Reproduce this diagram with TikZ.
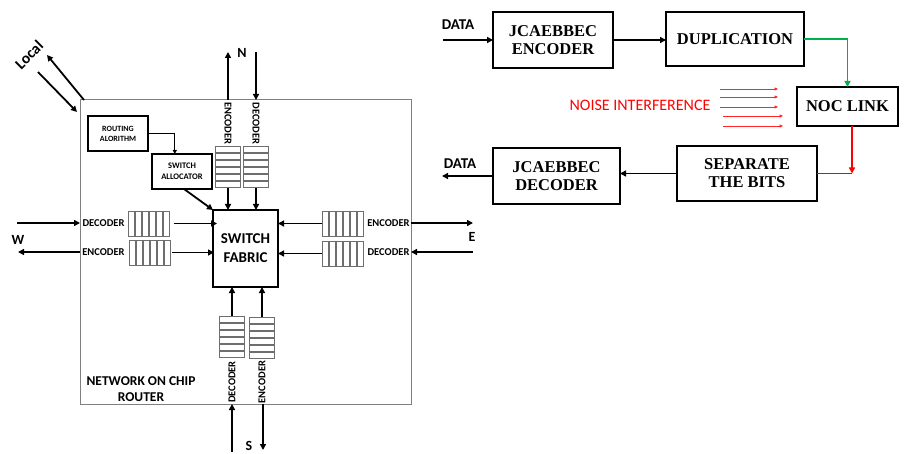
\documentclass[tikz,border=0pt]{standalone}
\usepackage{fontspec}
\setmainfont{Carlito}
\newfontfamily\serifb{Liberation Serif}
\usetikzlibrary{arrows.meta,calc}
\definecolor{okgreen}{RGB}{0,176,80}
\definecolor{bufgray}{RGB}{110,110,110}
\newcommand{\bufH}[3]{%
  \node[bufframe, minimum width=25, minimum height=42, anchor=north] (#1) at (#2,#3) {};
  \foreach \i in {0,...,5} \draw[bufline] ($(#1.north west)+(0,\i*7)$) rectangle ++(25,6.2);
}
\newcommand{\bufV}[3]{%
  \node[bufframe, minimum width=42, minimum height=25, anchor=north west] (#1) at (#2,#3) {};
  \foreach \i in {0,...,5} \draw[bufline] ($(#1.north west)+(\i*7,0)$) rectangle ++(6.2,25);
}
\begin{document}
\begin{tikzpicture}[x=1pt,y=-1pt,
  arr/.style={line width=1.8pt,-{Triangle[length=6pt,width=6pt]}},
  thinarr/.style={line width=1.1pt,-{Triangle[length=4pt,width=4pt]}},
  garr/.style={okgreen,line width=1.8pt,-{Triangle[length=6pt,width=6pt]}},
  rarr/.style={red,line width=1.8pt,-{Triangle[length=6pt,width=6pt]}},
  rline/.style={red,line width=1.8pt},
  narr/.style={red!85,line width=0.7pt,-{Triangle[length=3.5pt,width=3pt]}},
  sbox/.style={draw,line width=2pt,inner sep=0,outer sep=0,align=center,
    font=\fontsize{16.5}{18}\selectfont\serifb\bfseries},
  lbox/.style={draw,line width=1.8pt,inner sep=0,outer sep=0,align=center},
  bufframe/.style={inner sep=0,outer sep=0},
  bufline/.style={draw=bufgray,line width=0.6pt},
  plbl/.style={inner sep=0.5pt,font=\fontsize{10.5}{11}\selectfont\bfseries},
  dir/.style={inner sep=0,font=\fontsize{14}{15}\selectfont\bfseries},
  datalbl/.style={inner sep=0,font=\fontsize{15}{16}\selectfont\bfseries}
]
\useasboundingbox (0,0) rectangle (907,454);

% ---------- router ----------
\node[draw=gray,line width=1pt,inner sep=0,outer sep=0,minimum width=331,minimum height=304,anchor=north west] (router) at (80,100) {};
\node[lbox,line width=1.6pt,minimum width=60,minimum height=35,font=\fontsize{8}{10}\selectfont\bfseries] (routing) at (118,133.5) {ROUTING\\ALORITHM};
\node[lbox,line width=1.6pt,minimum width=60,minimum height=35,font=\fontsize{8.5}{11}\selectfont\bfseries] (alloc) at (182,171.5) {SWITCH\\ALLOCATOR};
\node[lbox,minimum width=65,minimum height=77,font=\fontsize{15}{19}\selectfont\bfseries] (fabric) at (245.5,248.5) {SWITCH\\FABRIC};
\node[align=center,inner sep=0,font=\fontsize{13.5}{16.5}\selectfont\bfseries] (title) at (141,389) {NETWORK ON CHIP\\ROUTER};

\draw[thinarr] (routing.east) -| ($(alloc.north west)!0.38!(alloc.north east)$);
\draw[arr] ([xshift=2pt]alloc.south) -- (fabric.north west);

% Local
\node[inner sep=0,font=\fontsize{15.5}{16}\selectfont\bfseries,rotate=45] (local) at (29,55) {Local};
\coordinate (lout) at (47,55);
\coordinate (lin1) at (38,72);
\coordinate (lin2) at (77,112);
\draw[arr] ([xshift=4pt]router.north west) -- (lout);
\draw[arr] (lin1) -- (lin2);

% North
\bufH{nenc}{228}{146}
\bufH{ndec}{256}{146}
\node[plbl,rotate=-90] (nenclbl) at (228,123.5) {ENCODER};
\node[plbl,rotate=-90] (ndeclbl) at (256,123.5) {DECODER};
\coordinate (nout) at (228,52);
\coordinate (nin) at (256,52);
\draw[arr] (nout |- router.north) -- (nout);
\draw[arr] (nin) -- (nin |- router.north);
\draw[arr] (nenc.south) -- (nenc.south |- fabric.north);
\draw[arr] (ndec.south) -- (ndec.south |- fabric.north);
\node[dir] (nlbl) at (242,53) {N};

% South
\bufH{sdec}{232}{316}
\bufH{senc}{262}{317}
\node[plbl,rotate=90] (sdeclbl) at (232,382) {DECODER};
\node[plbl,rotate=90] (senclbl) at (262,382) {ENCODER};
\coordinate (sin) at (232,452);
\coordinate (sout) at (263,450);
\draw[arr] (sin) -- (sin |- router.south);
\draw[arr] (sout |- router.south) -- (sout);
\draw[arr] (sdec.north) -- (sdec.north |- fabric.south);
\draw[arr] (senc.north) -- (senc.north |- fabric.south);
\node[dir] (slbl) at (249,446) {S};

% West
\bufV{wdec}{128}{211}
\bufV{wenc}{129}{240}
\node[plbl] (wdeclbl) at (103.5,223) {DECODER};
\node[plbl] (wenclbl) at (103.5,252) {ENCODER};
\coordinate (win) at (17,223);
\coordinate (wout) at (18,252);
\draw[arr] (win) -- (win -| router.west);
\draw[arr] (wout -| router.west) -- (wout);
\draw[arr] ([xshift=4pt]wdec.east) -- ([xshift=4pt]wdec.east -| fabric.west);
\draw[arr] ([xshift=1pt]wenc.east) -- ([xshift=1pt]wenc.east -| fabric.west);
\node[dir] (wlbl) at (18,240) {W};

% East
\bufV{eenc}{322}{211}
\bufV{edec}{322}{241}
\node[plbl] (eenclbl) at (388.5,223) {ENCODER};
\node[plbl] (edeclbl) at (388.5,252) {DECODER};
\coordinate (eout) at (473,223);
\coordinate (ein) at (473,252);
\draw[arr] (eout -| router.east) -- (eout);
\draw[arr] (ein) -- (ein -| router.east);
\draw[arr] (eenc.west) -- (eenc.west -| fabric.east);
\draw[arr] (edec.west) -- (edec.west -| fabric.east);
\node[dir] (elbl) at (472,237) {E};

% ---------- right flow ----------
\node[sbox,minimum width=120,minimum height=56] (enc) at (553,40) {JCAEBBEC\\ENCODER};
\node[sbox,minimum width=138,minimum height=54] (dup) at (735,39) {DUPLICATION};
\node[sbox,minimum width=101,minimum height=39] (noc) at (847.5,106.5) {NOC LINK};
\node[sbox,minimum width=140,minimum height=55] (sep) at (747,173.5) {SEPARATE\\THE BITS};
\node[sbox,minimum width=127,minimum height=56] (dec) at (556.5,176) {JCAEBBEC\\DECODER};

\node[datalbl] (datain) at (458,25) {DATA};
\node[datalbl] (dataout) at (460,164) {DATA};
\coordinate (din) at (443,40);
\coordinate (dout) at (442,176);
\coordinate (rc) at (852,173.5);

\draw[arr] (din) -- (enc.west);
\draw[arr] (enc.east) -- (enc.east -| dup.west);
\draw[garr] (dup.east) -| (noc.south |- noc.north);
\draw[rarr] (noc.south -| rc) -- (rc);
\draw[rline] (sep.east) -- (rc);
\draw[arr] (sep.west) -- (sep.west -| dec.east);
\draw[arr] (dec.west) -- (dout);

\node[red,inner sep=0,font=\fontsize{16}{17}\selectfont] (noise) at (640,105) {NOISE INTERFERENCE};
\foreach \xa/\xb/\yy [count=\k] in {720/778/89, 720/778/97, 720/778/107, 723/783/116, 723/783/126} {
  \coordinate (na\k) at (\xa,\yy);
  \coordinate (nb\k) at (\xb,\yy);
  \draw[narr] (na\k) -- (nb\k);
}
\end{tikzpicture}
\end{document}
